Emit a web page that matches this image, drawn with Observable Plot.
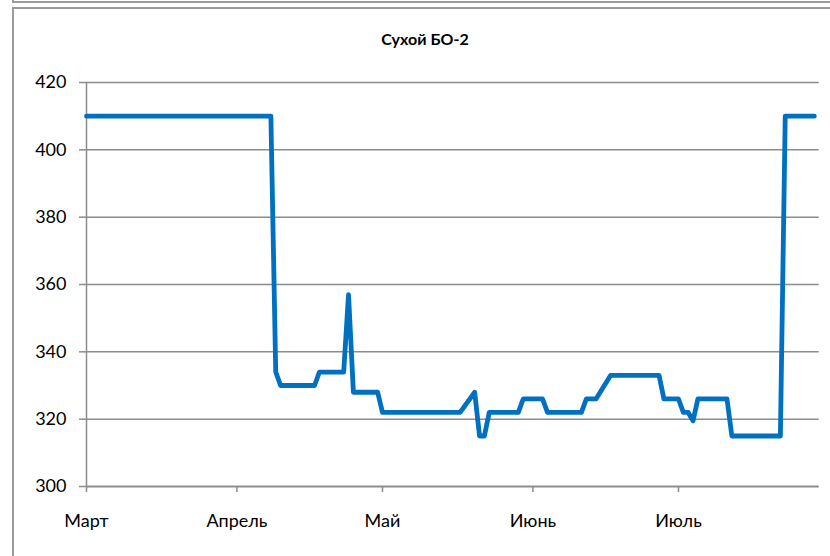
<!DOCTYPE html>
<html>
<head>
<meta charset="utf-8">
<script src="https://cdn.jsdelivr.net/npm/d3@7"></script>
<script src="https://cdn.jsdelivr.net/npm/@observablehq/plot@0.6"></script>
<style>
  html, body { margin: 0; padding: 0; background: #fff; }
  #wrap { position: relative; width: 830px; height: 556px; overflow: hidden; background: #fff; }
  #prev { position: absolute; left: 12px; top: 0; width: 830px; height: 1px; border-bottom: 2px solid #9a9a9a; border-left: 2px solid #9a9a9a; }
  #frame { position: absolute; left: 12px; top: 7px; width: 830px; height: 560px; border-top: 2px solid #9a9a9a; border-left: 2px solid #9a9a9a; }
  #title { position: absolute; left: 0; width: 850px; top: 29px; text-align: center; font-family: Lato, "Open Sans", sans-serif; font-weight: bold; font-size: 16px; color: #000; }
  #chart { position: absolute; left: 0; top: 0; }
</style>
</head>
<body>
<div id="wrap">
  <div id="prev"></div>
  <div id="frame"></div>
  <div id="title">Сухой БО-2</div>
  <div id="chart"></div>
</div>
<script>
const dates = ["2013-03-01","2013-04-08","2013-04-09","2013-04-10","2013-04-17","2013-04-18","2013-04-23","2013-04-24","2013-04-25","2013-04-30","2013-05-01","2013-05-17","2013-05-20","2013-05-21","2013-05-22","2013-05-23","2013-05-29","2013-05-30","2013-06-03","2013-06-04","2013-06-11","2013-06-12","2013-06-14","2013-06-17","2013-06-27","2013-06-28","2013-07-01","2013-07-02","2013-07-03","2013-07-04","2013-07-05","2013-07-11","2013-07-12","2013-07-22","2013-07-23","2013-07-29"];
const values = [410,410,334,330,330,334,334,357,328,328,322,322,328,315,315,322,322,326,326,322,322,326,326,333,333,326,326,322,322,319.5,326,326,315,315,410,410];
const monthTicks = ["2013-03-01","2013-04-01","2013-05-01","2013-06-01","2013-07-01"];
const monthLabels = ["Март","Апрель","Май","Июнь","Июль"];
const yTicks = [300,320,340,360,380,400,420];

const data = dates.map((d, i) => ({date: new Date(d), value: values[i]}));
const tickDates = monthTicks.map(d => new Date(d));
const labelOf = new Map(tickDates.map((d, i) => [+d, monthLabels[i]]));

const grid = "#8c8c8c";
const font = 'Lato, "Open Sans", sans-serif';

const chart = Plot.plot({
  width: 830,
  height: 556,
  marginLeft: 86,
  marginRight: 11.3,
  marginTop: 82,
  marginBottom: 70,
  style: {fontFamily: font, fontSize: "18px", color: "#000", background: "transparent"},
  x: {type: "utc", domain: [new Date("2013-03-01"), new Date("2013-07-30")]},
  y: {domain: [300, 420]},
  marks: [
    Plot.ruleY(yTicks.filter(v => v > 300), {stroke: grid, strokeWidth: 1.5}),
    Plot.ruleY([300], {stroke: grid, strokeWidth: 2}),
    Plot.ruleX([new Date("2013-03-01")], {y1: 300, y2: 420, stroke: grid, strokeWidth: 1.5}),
    Plot.axisY(yTicks, {tickSize: 7, tickPadding: 13, stroke: grid, strokeWidth: 1.5, fontSize: 18, label: null, fill: "#000"}),
    Plot.axisX(tickDates, {tickSize: 6, tickPadding: 22, stroke: grid, strokeWidth: 1.5, fontSize: 18, label: null, fill: "#000", tickFormat: d => labelOf.get(+d)}),
    Plot.line(data, {x: "date", y: "value", stroke: "#0070C0", strokeWidth: 4.8, strokeLinejoin: "round", strokeLinecap: "round"})
  ]
});
document.getElementById("chart").appendChild(chart);
</script>
</body>
</html>
